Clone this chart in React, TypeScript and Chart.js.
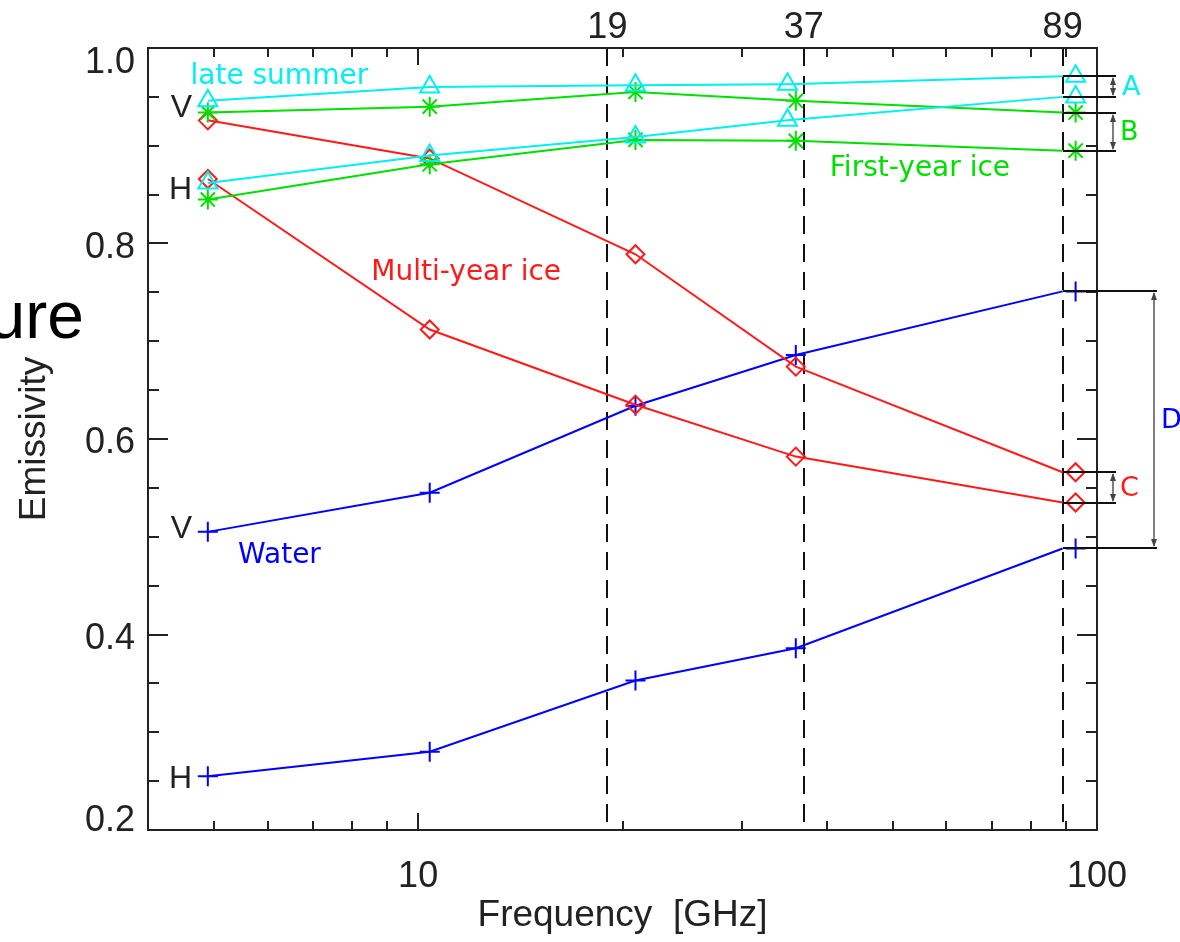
import React, { useEffect, useRef } from 'react';
import { Chart, registerables } from 'chart.js';

Chart.register(...registerables);

const W = 1180;
const H = 942;

// Frequencies (GHz) at which symbols are drawn
const freqs = [4.9, 10.4, 20.9, 36, 93];
const freqsLateSummer = [4.9, 10.4, 20.9, 35, 93];
// the connecting lines end at the 89 GHz channel
const lineEndFreq = 89;

// Emissivity values
const lateSummerV = [0.946, 0.96, 0.962, 0.963, 0.971];
const lateSummerH = [0.862, 0.89, 0.909, 0.926, 0.95];
const firstYearV = [0.934, 0.94, 0.955, 0.946, 0.934];
const firstYearH = [0.845, 0.881, 0.906, 0.905, 0.895];
const multiYearV = [0.926, 0.887, 0.789, 0.674, 0.566];
const multiYearH = [0.866, 0.712, 0.635, 0.582, 0.535];
const waterV = [0.505, 0.545, 0.634, 0.686, 0.751];
const waterH = [0.255, 0.28, 0.353, 0.386, 0.488];

// Channels marked by dashed lines
const channelFreqs = [19, 37, 89];
const channelLabels = ['19', '37', '89'];

// Axis ticks
const xTickValues = [10, 100];
const xTickLabels = ['10', '100'];
const yTickValues = [0.2, 0.4, 0.6, 0.8, 1.0];
const yTickLabels = ['0.2', '0.4', '0.6', '0.8', '1.0'];

const CYAN = '#00f0f0';
const GREEN = '#00e000';
const RED = '#ff1a1a';
const BLUE = '#0000ff';
const INK = '#222222';

const TICK_FONT = '36px "Liberation Sans", Arial, sans-serif';
const NOTE_FONT = '28px "DejaVu Sans", sans-serif';

function series(xs: number[], ys: number[], color: string, style: string, radius: number) {
  const lineXs = xs.map((v, i) => (i === xs.length - 1 ? lineEndFreq : v));
  return [
    {
      data: lineXs.map((x, i) => ({ x, y: ys[i] })),
      borderColor: color,
      borderWidth: 2,
      pointRadius: 0,
      showLine: true,
      fill: false,
      clip: false as any,
    },
    {
      data: xs.map((x, i) => ({ x, y: ys[i] })),
      showLine: false,
      pointStyle: style,
      pointRadius: radius,
      pointBorderColor: color,
      pointBackgroundColor: 'rgba(0,0,0,0)',
      pointBorderWidth: 2,
      clip: false as any,
    },
  ];
}

const brackets = [
  { label: 'A', color: CYAN, top: lateSummerV, bottom: lateSummerH, end: 19, textX: 25 },
  { label: 'B', color: GREEN, top: firstYearV, bottom: firstYearH, end: 19, textX: 23 },
  { label: 'C', color: RED, top: multiYearV, bottom: multiYearH, end: 19, textX: 23 },
  { label: 'D', color: BLUE, top: waterV, bottom: waterH, end: 60, textX: 64 },
];

const notes = [
  { text: 'late summer', freq: 4.62, value: 0.963, color: CYAN },
  { text: 'First-year ice', freq: 40.4, value: 0.869, color: GREEN },
  { text: 'Multi-year ice', freq: 8.53, value: 0.7625, color: RED },
  { text: 'Water', freq: 5.43, value: 0.4733, color: BLUE },
];

const polLabels = [
  { text: 'V', value: 0.9383 },
  { text: 'H', value: 0.8545 },
  { text: 'V', value: 0.5081 },
  { text: 'H', value: 0.2522 },
];

function arrowHead(ctx: CanvasRenderingContext2D, x: number, y: number, dir: number) {
  ctx.beginPath();
  ctx.moveTo(x, y);
  ctx.lineTo(x - 3, y - dir * 8);
  ctx.lineTo(x + 3, y - dir * 8);
  ctx.closePath();
  ctx.fill();
}

const framePlugin = {
  id: 'frame',
  beforeDatasetsDraw(chart: any) {
    const { ctx, chartArea: a, scales } = chart;
    const x = scales.x;
    ctx.save();
    ctx.strokeStyle = '#111';
    ctx.lineWidth = 2;
    ctx.setLineDash([18, 10]);
    channelFreqs.forEach((f) => {
      const px = Math.round(x.getPixelForValue(f));
      ctx.beginPath();
      ctx.moveTo(px, a.top);
      ctx.lineTo(px, a.bottom);
      ctx.stroke();
    });
    ctx.restore();
  },
  afterDatasetsDraw(chart: any) {
    const { ctx, chartArea: a, scales } = chart;
    const x = scales.x;
    const y = scales.y;
    ctx.save();

    // frame
    ctx.strokeStyle = INK;
    ctx.lineWidth = 2;
    ctx.strokeRect(a.left, a.top, a.right - a.left, a.bottom - a.top);

    // y ticks (every 0.05, major every 0.2)
    for (let i = 4; i <= 20; i++) {
      const v = i * 0.05;
      const py = Math.round(y.getPixelForValue(v));
      const len = i % 4 === 0 ? 20 : 11;
      ctx.beginPath();
      ctx.moveTo(a.left, py);
      ctx.lineTo(a.left + len, py);
      ctx.moveTo(a.right, py);
      ctx.lineTo(a.right - len, py);
      ctx.stroke();
    }
    // x ticks
    const minors: number[] = [];
    [1, 10].forEach((d) => {
      for (let m = 2; m <= 9; m++) {
        const v = m * d;
        if (v > 4 && v < 100 && v !== 10) minors.push(v);
      }
    });
    const drawXTick = (v: number, len: number) => {
      const px = Math.round(x.getPixelForValue(v));
      ctx.beginPath();
      ctx.moveTo(px, a.bottom);
      ctx.lineTo(px, a.bottom - len);
      ctx.moveTo(px, a.top);
      ctx.lineTo(px, a.top + len);
      ctx.stroke();
    };
    minors.forEach((v) => drawXTick(v, 9));
    xTickValues.forEach((v) => drawXTick(v, 17));

    // tick labels
    ctx.fillStyle = INK;
    ctx.font = TICK_FONT;
    ctx.textAlign = 'right';
    ctx.textBaseline = 'alphabetic';
    yTickValues.forEach((v, i) => {
      const py = y.getPixelForValue(v);
      const base = Math.min(Math.max(py + 14, a.top + 25), a.bottom + 1);
      ctx.fillText(yTickLabels[i], a.left - 13, base);
    });
    ctx.textAlign = 'center';
    xTickValues.forEach((v, i) => {
      ctx.fillText(xTickLabels[i], x.getPixelForValue(v), a.bottom + 57);
    });
    channelFreqs.forEach((f, i) => {
      ctx.fillText(channelLabels[i], x.getPixelForValue(f), a.top - 10);
    });

    // axis titles
    ctx.font = '37px "Liberation Sans", Arial, sans-serif';
    ctx.fillText('Frequency  [GHz]', (a.left + a.right) / 2, a.bottom + 96);
    ctx.save();
    ctx.translate(45, (a.top + a.bottom) / 2);
    ctx.rotate(-Math.PI / 2);
    ctx.fillText('Emissivity', 0, 0);
    ctx.restore();

    // polarisation labels
    ctx.font = '32px "Liberation Sans", Arial, sans-serif';
    ctx.textAlign = 'right';
    ctx.textBaseline = 'middle';
    polLabels.forEach((p) => {
      ctx.fillText(p.text, a.left + 44, y.getPixelForValue(p.value));
    });

    // coloured notes
    ctx.font = NOTE_FONT;
    ctx.textAlign = 'left';
    ctx.textBaseline = 'alphabetic';
    notes.forEach((n) => {
      ctx.fillStyle = n.color;
      ctx.fillText(n.text, x.getPixelForValue(n.freq), y.getPixelForValue(n.value));
    });

    // brackets
    const x89 = Math.round(x.getPixelForValue(lineEndFreq));
    brackets.forEach((b) => {
      const last = b.top.length - 1;
      const y1 = Math.round(y.getPixelForValue(b.top[last]));
      const y2 = Math.round(y.getPixelForValue(b.bottom[last]));
      const xe = a.right + b.end;
      ctx.strokeStyle = '#111';
      ctx.lineWidth = 2;
      ctx.beginPath();
      ctx.moveTo(x89, y1);
      ctx.lineTo(xe, y1);
      ctx.moveTo(x89, y2);
      ctx.lineTo(xe, y2);
      ctx.stroke();
      const xa = xe - 3;
      ctx.strokeStyle = '#555';
      ctx.fillStyle = '#444';
      ctx.lineWidth = 1.5;
      ctx.beginPath();
      ctx.moveTo(xa, y1 + 2);
      ctx.lineTo(xa, y2 - 2);
      ctx.stroke();
      arrowHead(ctx, xa, y1 + 1, -1);
      arrowHead(ctx, xa, y2 - 1, 1);
      ctx.fillStyle = b.color;
      ctx.font = '27px "DejaVu Sans", sans-serif';
      ctx.textAlign = 'left';
      ctx.textBaseline = 'middle';
      ctx.fillText(b.label, a.right + b.textX, (y1 + y2) / 2 + 1);
    });

    // clipped slide title fragment
    ctx.fillStyle = '#000';
    ctx.font = '66px "Liberation Sans", Arial, sans-serif';
    ctx.textAlign = 'right';
    ctx.textBaseline = 'alphabetic';
    ctx.fillText('ure', 84, 338);

    ctx.restore();
  },
};

export default function App() {
  const canvasRef = useRef<HTMLCanvasElement | null>(null);

  useEffect(() => {
    const canvas = canvasRef.current;
    if (!canvas) return;
    const datasets = [
      ...series(freqsLateSummer, lateSummerV, CYAN, 'triangle', 11),
      ...series(freqsLateSummer, lateSummerH, CYAN, 'triangle', 11),
      ...series(freqs, firstYearV, GREEN, 'star', 10),
      ...series(freqs, firstYearH, GREEN, 'star', 10),
      ...series(freqs, multiYearV, RED, 'rectRot', 9),
      ...series(freqs, multiYearH, RED, 'rectRot', 9),
      ...series(freqs, waterV, BLUE, 'cross', 10),
      ...series(freqs, waterH, BLUE, 'cross', 10),
    ];
    const chart = new Chart(canvas, {
      type: 'line',
      data: { datasets: datasets as any },
      options: {
        responsive: false,
        animation: false,
        devicePixelRatio: 1,
        events: [],
        layout: { padding: { left: 148, right: 83, top: 48, bottom: 112 } },
        plugins: { legend: { display: false }, tooltip: { enabled: false } },
        scales: {
          x: { type: 'logarithmic', min: 4, max: 100, display: false },
          y: { type: 'linear', min: 0.2, max: 1.0, display: false },
        },
      },
      plugins: [framePlugin],
    });
    return () => chart.destroy();
  }, []);

  return (
    <div style={{ position: 'absolute', left: 0, top: 0, width: W, height: H, background: '#fff' }}>
      <canvas ref={canvasRef} width={W} height={H} style={{ display: 'block' }} />
    </div>
  );
}
